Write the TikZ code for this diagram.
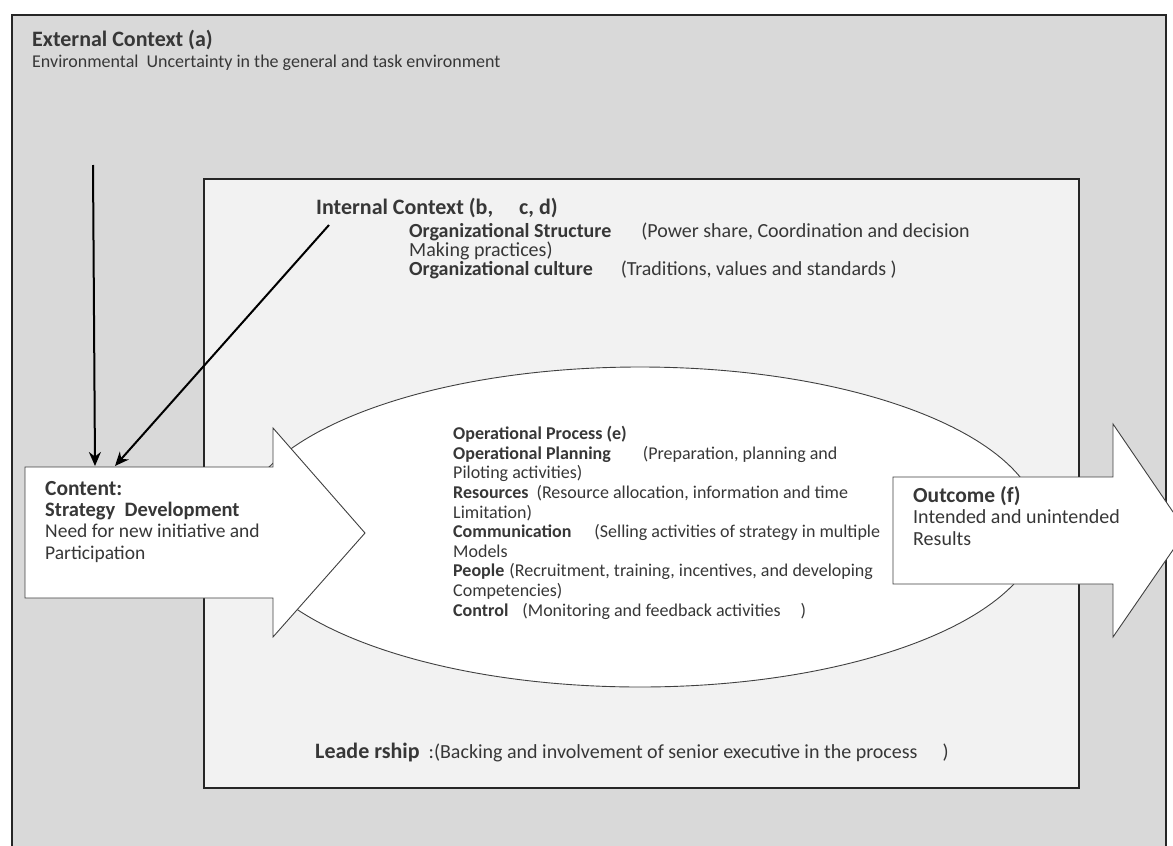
\documentclass[tikz,border=0pt]{standalone}
\usepackage{fontspec}
\setmainfont{Carlito}
\usetikzlibrary{positioning,arrows.meta}

\definecolor{outergray}{RGB}{217,217,217}
\definecolor{innergray}{RGB}{242,242,242}
\definecolor{textgray}{RGB}{55,55,55}

\newcommand{\headfont}{\fontsize{22}{24}\selectfont\bfseries}
\newcommand{\bodyfont}{\fontsize{18}{19.6}\selectfont}

\tikzset{
  frame/.style={draw=black!85, line width=1.4pt},
  bigarrow/.style={draw=black!75, fill=white, line width=0.9pt},
  txt/.style={anchor=base west, inner sep=0pt, align=left, text=textgray, font=\bodyfont},
  link/.style={->, line width=2pt},
}

\begin{document}
\begin{tikzpicture}[x=1pt, y=-1pt, >={Stealth[length=14pt, width=12pt]}]
    \useasboundingbox (0,0) rectangle (1173,846);
    \clip (0,0) rectangle (1173,846);
    % context boxes
    \filldraw[frame, fill=outergray] (12,15) rectangle (1166,870);
    \filldraw[frame, fill=innergray] (204,179) rectangle (1079,788);
    \filldraw[draw=black!75, fill=white, line width=0.9pt] (640,527) ellipse [x radius=400, y radius=160];
    % content and outcome arrows
    \filldraw[bigarrow] (25,467) -- (273,467) -- (273,428) -- (365,533) -- (273,637) -- (273,598) -- (25,598) -- cycle;
    \filldraw[bigarrow] (893,477) -- (1113,477) -- (1113,424) -- (1186,531) -- (1113,637) -- (1113,584) -- (893,584) -- cycle;

    % multi-line nodes sit on the baseline of their last line
    \node[txt, font=\headfont] (external) at (32,46) {External Context (a)};
    \node[txt] (environment) at (32,67) {Environmental\ \ Uncertainty in the general and task environment};

    \node[txt, font=\headfont] (internal) at (316,214) {Internal Context (b,\hspace{26pt}c, d)};
    \node[txt, font=\fontsize{20}{19}\selectfont] (structure) at (409,275) {\textbf{Organizational Structure}\hspace{30pt}(Power share, Coordination and decision\\
        Making practices)\\
        \textbf{Organizational culture}\hspace{28pt}(Traditions, values and standards\ )};

    \node[txt] (process) at (453,616) {\textbf{Operational Process (e)}\\
        \textbf{Operational Planning}\hspace{32pt}(Preparation, planning and\\
        Piloting activities)\\
        \textbf{Resources}\hspace{8pt}(Resource allocation, information and time\\
        Limitation)\\
        \textbf{Communication}\hspace{23pt}(Selling activities of strategy in multiple\\
        Models\\
        \textbf{People}\hspace{5pt}(Recruitment, training, incentives, and developing\\
        Competencies)\\
        \textbf{Control}\hspace{14pt}(Monitoring and feedback activities\hspace{20pt})};

    \node[txt, font=\fontsize{19.5}{21.3}\selectfont] (content) at (45,559) {{\fontsize{21.5}{21.3}\selectfont\bfseries Content:}\\
        {\fontsize{20.5}{21.3}\selectfont\bfseries Strategy\ \ Development}\\
        Need for new initiative and\\
        Participation};

    \node[txt, font=\fontsize{20}{21.5}\selectfont] (outcome) at (913,545) {{\fontsize{21.5}{21.5}\selectfont\bfseries Outcome (f)}\\
        Intended and unintended\\
        Results};

    \node[txt, font=\fontsize{20}{22}\selectfont] (leadership) at (315,758) {{\fontsize{22}{22}\selectfont\bfseries Leade rship}\ \ :(Backing and involvement of senior executive in the process\hspace{25pt})};

    % links into the content arrow
    \coordinate (extfoot) at (93,165);
    \coordinate (intfoot) at (329,225);
    \coordinate (contentleft) at (95,466);
    \coordinate (contentright) at (115,466);
    \draw[link] (extfoot) -- (contentleft);
    \draw[link] (intfoot) -- (contentright);
\end{tikzpicture}
\end{document}
